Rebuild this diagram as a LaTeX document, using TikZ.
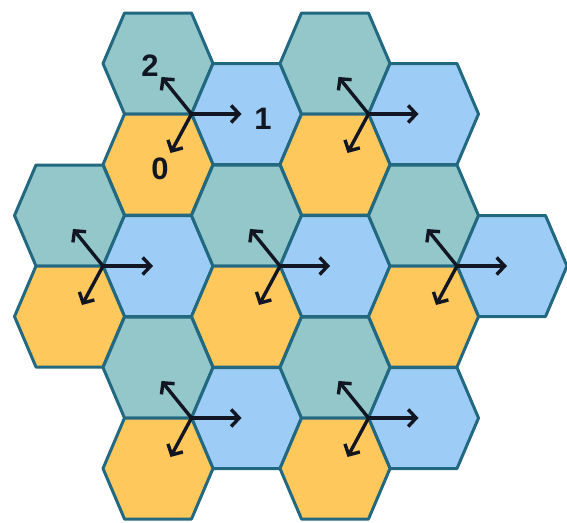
\documentclass[tikz,border=0pt]{standalone}
\usepackage{fontspec}
\setmainfont{Liberation Sans}
\usetikzlibrary{arrows.meta}
\definecolor{hexteal}{RGB}{148,199,201}
\definecolor{hexblue}{RGB}{157,205,247}
\definecolor{hexorange}{RGB}{255,200,92}
\definecolor{hexedge}{RGB}{34,104,128}
\definecolor{arrowink}{RGB}{18,22,34}
\tikzset{
  hexcell/.style={draw=hexedge, line width=3pt, line join=round},
  hex/.pic={\path[pic actions] (-55,0) -- (-33.5,-50.5) -- (33.5,-50.5) -- (55,0) -- (33.5,50.5) -- (-33.5,50.5) -- cycle;},
  vec/.style={draw=arrowink, line width=3.4pt, -{Straight Barb[length=8pt,width=17pt]}},
  digit/.style={font=\bfseries\fontsize{31}{33}\selectfont, text=arrowink, inner sep=0pt}
}
\begin{document}
\begin{tikzpicture}[x=1pt,y=-1pt]
\useasboundingbox (0,0) rectangle (567,522);
% cluster common vertices
\foreach \n/\px/\py in {A/191.5/114, B/368.5/114, C/103/266, D/280/266, E/457/266, F/191.5/418, G/368.5/418}{
  \pic[hexcell, fill=hexteal] at (\px-33.5,\py-50.5) {hex};
  \pic[hexcell, fill=hexblue] at (\px+55,\py) {hex};
  \pic[hexcell, fill=hexorange] at (\px-33.5,\py+50.5) {hex};
}
\foreach \n/\px/\py in {A/191.5/114, B/368.5/114, C/103/266, D/280/266, E/457/266, F/191.5/418, G/368.5/418}{
  \coordinate (\n) at (\px,\py);
  \coordinate (\n r) at (\px+50,\py);
  \coordinate (\n u) at (\px-30,\py-37);
  \coordinate (\n d) at (\px-21,\py+39);
  \draw[vec] (\n) -- (\n r);
  \draw[vec] (\n) -- (\n u);
  \draw[vec] (\n) -- (\n d);
}
\node[digit] (l2) at (150,66) {2};
\node[digit] (l1) at (263,119) {1};
\node[digit] (l0) at (160,169) {0};
\end{tikzpicture}
\end{document}
